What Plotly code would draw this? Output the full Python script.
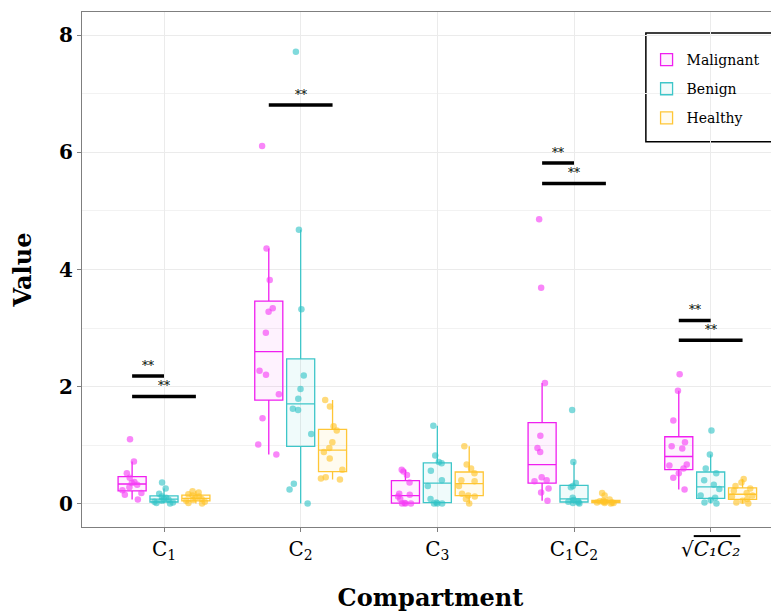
import numpy as np
import plotly.graph_objects as go

# ---------------- data ----------------
categories = ["C1", "C2", "C3", "C1C2", "sqrtC1C2"]
tick_labels = [
    "C<sub>1</sub>",
    "C<sub>2</sub>",
    "C<sub>3</sub>",
    "C<sub>1</sub>C<sub>2</sub>",
    "√<span style='text-decoration:overline'><i>C₁C₂</i></span>",
]
series_names = ["Malignant", "Benign", "Healthy"]

malignant = [
    [0.07, 0.15, 0.18, 0.23, 0.28, 0.32, 0.35, 0.37, 0.44, 0.52, 0.72, 1.10],
    [0.84, 1.01, 1.46, 1.87, 2.20, 2.27, 2.92, 3.28, 3.34, 3.82, 4.36, 6.11],
    [0.00, 0.00, 0.00, 0.01, 0.08, 0.12, 0.15, 0.17, 0.36, 0.49, 0.55, 0.58],
    [0.05, 0.19, 0.26, 0.38, 0.40, 0.45, 0.88, 0.95, 1.16, 2.06, 3.69, 4.86],
    [0.24, 0.44, 0.52, 0.60, 0.65, 0.67, 0.94, 0.98, 1.05, 1.42, 1.93, 2.21],
]
benign = [
    [0.00, 0.01, 0.02, 0.03, 0.05, 0.07, 0.08, 0.10, 0.12, 0.17, 0.26, 0.36],
    [0.00, 0.24, 0.34, 1.19, 1.60, 1.62, 1.79, 1.96, 2.19, 3.32, 4.68, 7.72],
    [0.00, 0.00, 0.00, 0.02, 0.08, 0.30, 0.40, 0.56, 0.69, 0.71, 0.82, 1.33],
    [0.00, 0.01, 0.02, 0.03, 0.04, 0.06, 0.10, 0.28, 0.30, 0.35, 0.71, 1.60],
    [0.00, 0.02, 0.06, 0.10, 0.14, 0.25, 0.32, 0.40, 0.52, 0.60, 0.84, 1.25],
]
healthy = [
    [0.00, 0.01, 0.03, 0.05, 0.06, 0.08, 0.10, 0.12, 0.14, 0.16, 0.19, 0.21],
    [0.41, 0.43, 0.45, 0.58, 0.77, 0.88, 0.95, 1.05, 1.25, 1.32, 1.66, 1.77],
    [0.00, 0.08, 0.12, 0.14, 0.17, 0.30, 0.38, 0.40, 0.52, 0.60, 0.67, 0.98],
    [0.00, 0.01, 0.01, 0.02, 0.02, 0.03, 0.03, 0.04, 0.05, 0.07, 0.14, 0.18],
    [0.00, 0.02, 0.05, 0.08, 0.12, 0.14, 0.18, 0.22, 0.26, 0.30, 0.36, 0.42],
]

# significance brackets: category index, first group, second group, height
sig_category = [0, 0, 1, 3, 3, 4, 4]
sig_group_a = [0, 0, 0, 0, 0, 0, 0]
sig_group_b = [1, 2, 2, 1, 2, 1, 2]
sig_height = [2.18, 1.83, 6.81, 5.82, 5.47, 3.13, 2.79]
sig_label = "**"

# ---------------- style ----------------
line_colors = ["#F01EF0", "#3EC6C9", "#FFC636"]
fill_colors = ["rgba(240,30,240,0.06)", "rgba(62,198,201,0.08)", "rgba(255,198,54,0.08)"]
point_colors = ["rgba(245,60,245,0.62)", "rgba(50,195,198,0.62)", "rgba(255,195,40,0.62)"]
FONT = "DejaVu Serif"
BOXGAP = 0.30
BOXGROUPGAP = 0.12
group_offset = (1 - BOXGAP) / 3.0

all_series = [malignant, benign, healthy]

fig = go.Figure()

for si, (name, data) in enumerate(zip(series_names, all_series)):
    q1s, meds, q3s, lows, highs = [], [], [], [], []
    for vals in data:
        v = np.array(vals, dtype=float)
        q1, med, q3 = np.percentile(v, [25, 50, 75])
        iqr = q3 - q1
        lo = v[v >= q1 - 1.5 * iqr].min()
        hi = v[v <= q3 + 1.5 * iqr].max()
        q1s.append(q1); meds.append(med); q3s.append(q3); lows.append(lo); highs.append(hi)
    # box (ggplot-style statistics, type-7 quantiles)
    fig.add_trace(go.Box(
        x=categories, q1=q1s, median=meds, q3=q3s,
        lowerfence=lows, upperfence=highs,
        name=name, offsetgroup=name, legendgroup=name,
        line=dict(color=line_colors[si], width=1.3),
        fillcolor=fill_colors[si], whiskerwidth=0,
        boxpoints=False, showlegend=True, hoverinfo="skip",
    ))
    # jittered points
    xs, ys = [], []
    for cat, vals in zip(categories, data):
        xs += [cat] * len(vals)
        ys += list(vals)
    fig.add_trace(go.Box(
        x=xs, y=ys, name=name, offsetgroup=name, legendgroup=name,
        boxpoints="all", jitter=0.85, pointpos=0,
        line=dict(color="rgba(0,0,0,0)", width=0),
        fillcolor="rgba(0,0,0,0)",
        marker=dict(color=point_colors[si], size=6.5, line=dict(width=0)),
        showlegend=False, hoverinfo="skip",
    ))

for c, a, b, h in zip(sig_category, sig_group_a, sig_group_b, sig_height):
    xa = c + (a - 1) * group_offset
    xb = c + (b - 1) * group_offset
    fig.add_shape(type="line", xref="x", yref="y", x0=xa, x1=xb, y0=h, y1=h,
                  line=dict(color="black", width=3.5))
    fig.add_annotation(x=(xa + xb) / 2, y=h, xref="x", yref="y", text=sig_label,
                       showarrow=False, yanchor="bottom", yshift=1,
                       font=dict(family=FONT, size=12, color="black"))

# legend frame (white box with black border)
fig.add_shape(type="rect", xref="paper", yref="paper",
              x0=0.809, x1=0.990, y0=0.748, y1=0.959, layer="between",
              fillcolor="white", line=dict(color="black", width=1.5))

fig.update_layout(
    width=771, height=606,
    margin=dict(l=74, r=0, t=4, b=87),
    paper_bgcolor="white", plot_bgcolor="white",
    boxmode="group", boxgap=BOXGAP, boxgroupgap=BOXGROUPGAP,
    font=dict(family=FONT, color="black"),
    legend=dict(
        x=0.81, y=0.938, xanchor="left", yanchor="top",
        bgcolor="rgba(0,0,0,0)", borderwidth=0,
        font=dict(family=FONT, size=14, color="black"),
        traceorder="grouped", tracegroupgap=8,
    ),
    xaxis=dict(
        type="category", categoryorder="array", categoryarray=categories,
        range=[-0.6, 4.5],
        tickvals=categories, ticktext=tick_labels,
        tickfont=dict(family=FONT, size=20, color="black"),
        showgrid=True, gridcolor="#EBEBEB", gridwidth=1,
        showline=True, linecolor="#7F7F7F", linewidth=1.2, mirror=True,
        ticks="outside", ticklen=4, tickcolor="#7F7F7F",
        title=dict(text="<b>Compartment</b>", font=dict(family=FONT, size=24, color="black"), standoff=26),
        zeroline=False,
    ),
    yaxis=dict(
        range=[-0.4, 8.4], tickvals=[0, 2, 4, 6, 8],
        ticktext=["<b>0</b>", "<b>2</b>", "<b>4</b>", "<b>6</b>", "<b>8</b>"],
        tickfont=dict(family=FONT, size=20, color="black"),
        showgrid=True, gridcolor="#EBEBEB", gridwidth=1,
        minor=dict(tickvals=[1, 3, 5, 7], showgrid=True, gridcolor="#F2F2F2", gridwidth=1, ticks=""),
        showline=True, linecolor="#7F7F7F", linewidth=1.2, mirror=False,
        ticks="outside", ticklen=4, tickcolor="#7F7F7F",
        title=dict(text="<b>Value</b>", font=dict(family=FONT, size=24, color="black"), standoff=21),
        zeroline=False,
    ),
)

fig.write_html("out.html")
